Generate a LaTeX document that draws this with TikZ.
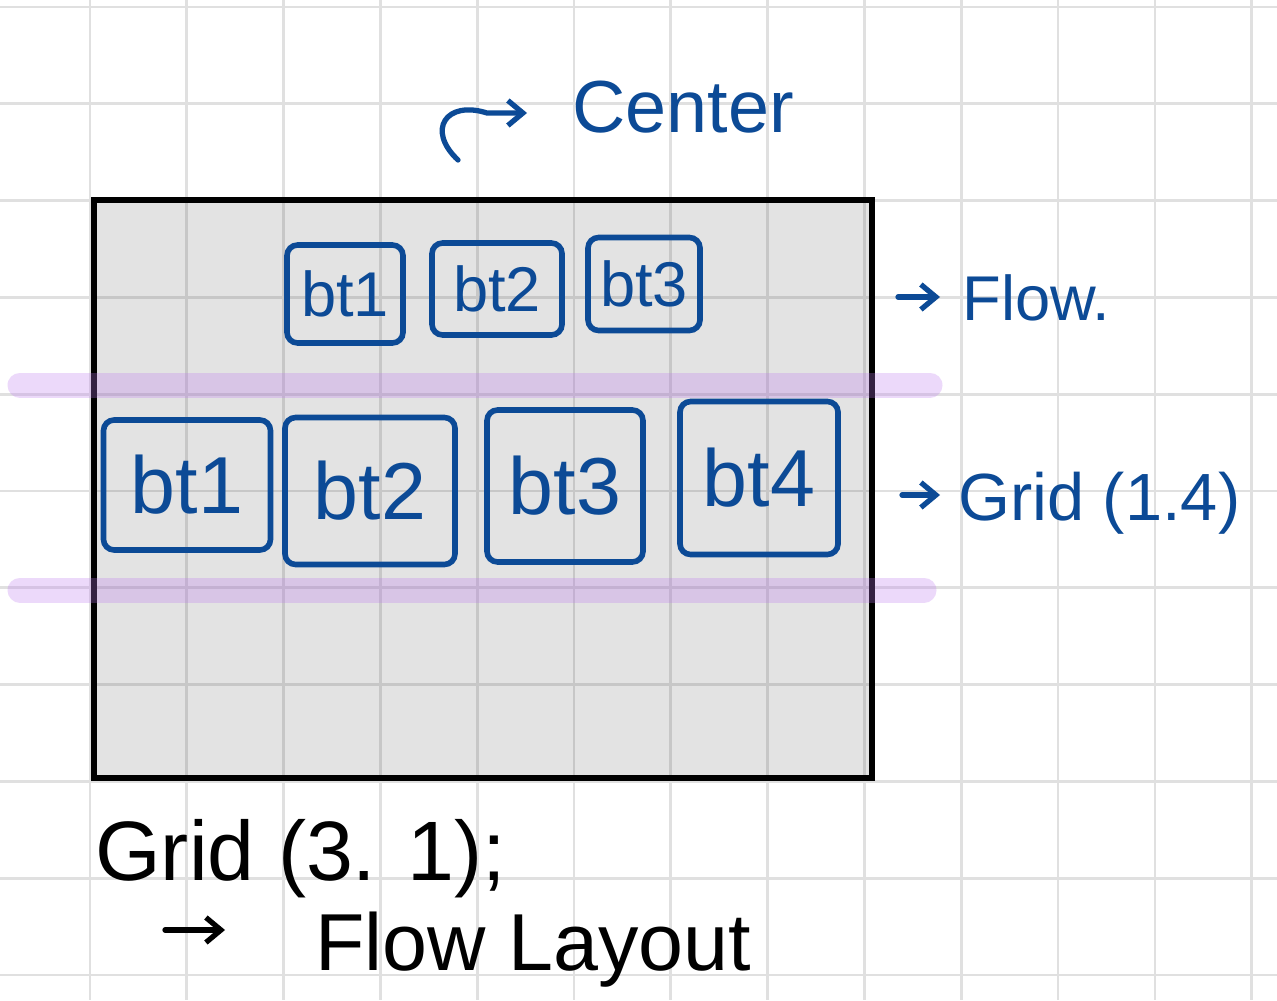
\documentclass[tikz,border=0pt]{standalone}
\usepackage{fontspec}
\setmainfont{Liberation Sans}
\usetikzlibrary{positioning,arrows.meta}
\definecolor{inkblue}{RGB}{12,74,150}
\definecolor{bandpurple}{RGB}{190,120,240}
\tikzset{
  gridline/.style={draw=black!12, line width=1.5pt},
  panel/.style={draw=black, line width=3.4pt, fill=black, fill opacity=0.11},
  band/.style={draw=bandpurple, draw opacity=0.28, line width=0.5cm, line cap=round},
  btnsmall/.style={draw=inkblue, text=inkblue, line width=3.2pt, rounded corners=6pt, inner sep=0pt, font=\fontsize{36}{40}\selectfont},
  btnbig/.style={btnsmall, font=\fontsize{46}{50}\selectfont},
  inklabel/.style={text=inkblue, inner sep=0pt, anchor=base west, font=\fontsize{38}{44}\selectfont},
  penlabel/.style={text=black, inner sep=0pt, anchor=base west, font=\fontsize{46}{52}\selectfont},
  inkarrow/.style={draw=inkblue, line width=3pt, line cap=round, -{Straight Barb[length=3mm,width=5mm]}},
  penarrow/.style={inkarrow, draw=black}
}

\begin{document}
\begin{tikzpicture}[x=0.02cm, y=-0.02cm]
  \useasboundingbox (0,0) rectangle (1277,1000);
  \fill[white] (0,0) rectangle (1277,1000);
  % squared paper
  \foreach \gx in {0,...,12}
    \draw[gridline] ({90+96.8*\gx},0) -- ({90+96.8*\gx},1000);
  \foreach \gy in {0,...,10}
    \draw[gridline] (0,{7+96.8*\gy}) -- (1277,{7+96.8*\gy});

  % container
  \draw[panel] (94,200) rectangle (872,778);
  \draw[band] (20,385) -- (930,385);
  \draw[band] (20,590) -- (924,590);

  % flow row
  \node[btnsmall, minimum width=2.32cm, minimum height=1.96cm] (flow1) at (345,294) {bt1};
  \node[btnsmall, minimum width=2.6cm, minimum height=1.84cm] (flow2) at (497,289) {bt2};
  \node[btnsmall, minimum width=2.24cm, minimum height=1.86cm] (flow3) at (644,284) {bt3};

  % grid row
  \node[btnbig, minimum width=3.34cm, minimum height=2.6cm] (grid1) at (187,485) {bt1};
  \node[btnbig, minimum width=3.4cm, minimum height=2.94cm] (grid2) at (370,491) {bt2};
  \node[btnbig, minimum width=3.12cm, minimum height=3.04cm] (grid3) at (565,486) {bt3};
  \node[btnbig, minimum width=3.16cm, minimum height=3.06cm] (grid4) at (759,478) {bt4};

  % notes
  \node[inklabel, font=\fontsize{42}{48}\selectfont] (centerlbl) at (572,133) {Center};
  \node[inklabel, font=\fontsize{36}{42}\selectfont] (flowlbl) at (962,320) {Flow.};
  \node[inklabel] (gridlbl) at (958,520) {Grid (1.4)};
  \node[penlabel, font=\fontsize{48}{54}\selectfont] (gridrule) at (95,880) {Grid (3. 1);};
  \node[penlabel] (layoutlbl) at (315,970) {Flow Layout};

  \coordinate (hooktail) at (458,160);
  \coordinate (hookbend) at (487,113);
  \coordinate (flowtail) at (898,297);
  \coordinate (gridtail) at (902,495);
  \coordinate (layouttail) at (165,930);

  \draw[inkarrow, shorten >=0.9cm] (hooktail) .. controls (426,130) and (446,100) .. (hookbend) -- (centerlbl.west |- hookbend);
  \draw[inkarrow, shorten >=0.44cm] (flowtail) -- (flowlbl.west |- flowtail);
  \draw[inkarrow, shorten >=0.36cm] (gridtail) -- (gridlbl.west |- gridtail);
  \draw[penarrow, shorten >=1.8cm] (layouttail) -- (layoutlbl.west |- layouttail);
\end{tikzpicture}
\end{document}
